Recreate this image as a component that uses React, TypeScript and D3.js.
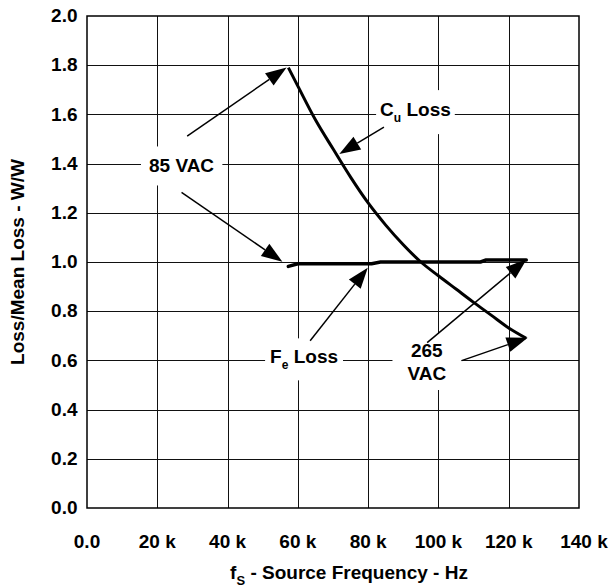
import * as d3 from "d3";
import { useEffect, useRef } from "react";

// source frequency in kHz
const cuFreq = [57.3, 60, 65, 70, 75, 80, 85, 90, 95, 100, 105, 110, 115, 120, 125];
const cuLoss = [1.79, 1.715, 1.578, 1.46, 1.345, 1.24, 1.15, 1.07, 1.0, 0.944, 0.89, 0.836, 0.784, 0.732, 0.69];

const feFreq = [57.3, 60, 81, 83.5, 112, 113.5, 125];
const feLoss = [0.982, 0.993, 0.993, 1.0, 1.0, 1.008, 1.008];

const xTicks = [0, 20, 40, 60, 80, 100, 120, 140];
const yTicks = [0, 0.2, 0.4, 0.6, 0.8, 1.0, 1.2, 1.4, 1.6, 1.8, 2.0];

// annotation arrows, [kHz, W/W]
const arrowFrom = [[28.5, 1.512], [26.9, 1.283], [84.5, 1.548], [63.5, 0.68], [96.8, 0.672], [106.6, 0.599]];
const arrowTo = [[56.8, 1.791], [55.6, 1.001], [71.8, 1.439], [79.9, 0.977], [125.1, 1.011], [125.4, 0.692]];

const FONT = "'Liberation Sans', Arial, Helvetica, sans-serif";

export default function App() {
    const ref = useRef(null);
    const width = 613,
        height = 588;
    const margin = { left: 87, right: 34, top: 16, bottom: 80 };

    useEffect(() => {
        const svg = d3.select(ref.current);
        svg.selectAll("*").remove();

        const x = d3.scaleLinear().domain([0, 140]).range([margin.left, width - margin.right]);
        const y = d3.scaleLinear().domain([0, 2]).range([height - margin.bottom, margin.top]);

        const g = svg.append("g");

        // grid
        g.selectAll(".vg")
            .data(xTicks.slice(1, -1))
            .join("line")
            .attr("x1", (d) => Math.round(x(d)) + 0.5)
            .attr("x2", (d) => Math.round(x(d)) + 0.5)
            .attr("y1", y(2))
            .attr("y2", y(0))
            .attr("stroke", "#111")
            .attr("stroke-width", 1);
        g.selectAll(".hg")
            .data(yTicks.slice(1, -1))
            .join("line")
            .attr("y1", (d) => Math.round(y(d)) + 0.5)
            .attr("y2", (d) => Math.round(y(d)) + 0.5)
            .attr("x1", x(0))
            .attr("x2", x(140))
            .attr("stroke", "#111")
            .attr("stroke-width", 1);

        g.append("rect")
            .attr("x", x(0))
            .attr("y", y(2))
            .attr("width", x(140) - x(0))
            .attr("height", y(0) - y(2))
            .attr("fill", "none")
            .attr("stroke", "black")
            .attr("stroke-width", 1.5);

        // tick labels
        g.selectAll(".yt")
            .data(yTicks)
            .join("text")
            .attr("x", 77.5)
            .attr("y", (d) => y(d))
            .attr("dy", "0.33em")
            .attr("text-anchor", "end")
            .style("font", `bold 19px ${FONT}`)
            .text((d) => d.toFixed(1));

        g.selectAll(".xt")
            .data(xTicks)
            .join("text")
            .attr("x", (d) => x(d) + (d === 140 ? 5 : 0))
            .attr("y", 548)
            .attr("text-anchor", "middle")
            .style("font", `bold 19px ${FONT}`)
            .text((d) => (d === 0 ? "0.0" : `${d} k`));

        // axis titles
        g.append("text")
            .attr("transform", `translate(24, ${y(1)}) rotate(-90)`)
            .attr("text-anchor", "middle")
            .style("font", `bold 19px ${FONT}`)
            .text("Loss/Mean Loss - W/W");

        const xt = g.append("text")
            .attr("x", 349)
            .attr("y", 579)
            .attr("text-anchor", "middle")
            .style("font", `bold 19px ${FONT}`);
        xt.append("tspan").text("f");
        xt.append("tspan").attr("dy", 6).style("font-size", "13px").text("S");
        xt.append("tspan").attr("dy", -6).text(" - Source Frequency - Hz");

        // labels with white boxes over the grid
        const labels: { lines: [string, string?, string?][], fx: number, fy: number, anchor: string, padX: number, padY: number }[] = [
            { lines: [["85 VAC"]], fx: 26.9, fy: 1.364, anchor: "middle", padX: 8, padY: 9 },
            { lines: [["C", "u", " Loss"]], fx: 83.4, fy: 1.593, anchor: "start", padX: 4, padY: 9 },
            { lines: [["F", "e", " Loss"]], fx: 52.1, fy: 0.588, anchor: "start", padX: 5, padY: 8 },
            { lines: [["265"], ["VAC"]], fx: 96.7, fy: 0.615, anchor: "middle", padX: 15, padY: 6 },
        ];

        const boxLayer = g.append("g");
        const lineLayer = g.append("g");
        const textLayer = g.append("g");

        labels.forEach((lb) => {
            const t = textLayer.append("text")
                .attr("text-anchor", lb.anchor)
                .style("font", `bold 19px ${FONT}`);
            lb.lines.forEach((ln, i) => {
                t.append("tspan")
                    .attr("x", x(lb.fx))
                    .attr("y", y(lb.fy) + i * 23.3)
                    .text(ln[0]);
                if (ln[1]) {
                    t.append("tspan").attr("dy", 6).style("font-size", "12px").text(ln[1]);
                    t.append("tspan").attr("dy", -6).text(ln[2] || "");
                }
            });
            const bb = (t.node() as SVGTextElement).getBBox();
            boxLayer.append("rect")
                .attr("x", bb.x - lb.padX)
                .attr("y", bb.y - lb.padY)
                .attr("width", bb.width + lb.padX * 2)
                .attr("height", bb.height + lb.padY * 2)
                .attr("fill", "white");
        });

        // curves
        const cuLine = d3.line<[number, number]>()
            .x((d) => x(d[0]))
            .y((d) => y(d[1]))
            .curve(d3.curveMonotoneX);
        const feLine = d3.line<[number, number]>()
            .x((d) => x(d[0]))
            .y((d) => y(d[1]));

        lineLayer.append("path")
            .attr("d", feLine(feFreq.map((f, i) => [f, feLoss[i]])))
            .attr("fill", "none")
            .attr("stroke", "black")
            .attr("stroke-width", 3.5)
            .attr("stroke-linecap", "round");
        lineLayer.append("path")
            .attr("d", cuLine(cuFreq.map((f, i) => [f, cuLoss[i]])))
            .attr("fill", "none")
            .attr("stroke", "black")
            .attr("stroke-width", 3)
            .attr("stroke-linejoin", "round");

        // arrows
        const headLen = 21,
            headHalf = 7.5;
        arrowFrom.forEach((from, i) => {
            const x0 = x(from[0]), y0 = y(from[1]);
            const x1 = x(arrowTo[i][0]), y1 = y(arrowTo[i][1]);
            const len = Math.hypot(x1 - x0, y1 - y0);
            const ux = (x1 - x0) / len, uy = (y1 - y0) / len;
            const bx = x1 - ux * headLen, by = y1 - uy * headLen;
            lineLayer.append("line")
                .attr("x1", x0).attr("y1", y0)
                .attr("x2", bx).attr("y2", by)
                .attr("stroke", "black")
                .attr("stroke-width", 1.5);
            lineLayer.append("polygon")
                .attr("points", [
                    [x1, y1],
                    [bx - uy * headHalf, by + ux * headHalf],
                    [bx + uy * headHalf, by - ux * headHalf],
                ].map((p) => p.join(",")).join(" "))
                .attr("fill", "black");
        });
    }, []);

    return (
        <div>
            <svg ref={ref} width={width} height={height}
                style={{ position: "absolute", left: 0, top: 0, background: "white" }}>
            </svg>
        </div>
    );
}
